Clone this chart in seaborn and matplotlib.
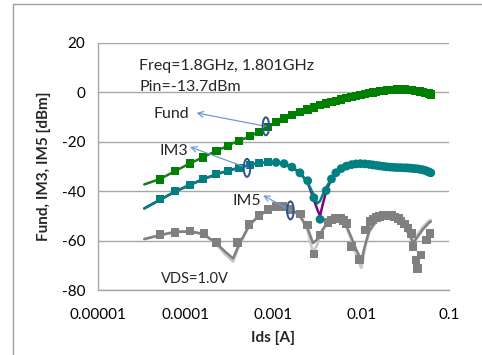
import numpy as np
import pandas as pd
import matplotlib
matplotlib.use("Agg")
import matplotlib.pyplot as plt
import seaborn as sns
from matplotlib.patches import Ellipse
from matplotlib.transforms import ScaledTranslation
from matplotlib.lines import Line2D

# ---------------- data ----------------
meas_ids = [5.13e-5, 7.59e-5, 1.12e-4, 1.58e-4, 2.24e-4, 3.02e-4, 4.07e-4, 5.37e-4,
            6.84e-4, 8.71e-4, 1.07e-3, 1.32e-3, 1.62e-3, 2.00e-3, 2.45e-3, 2.88e-3,
            3.39e-3, 3.98e-3, 4.57e-3, 5.13e-3, 5.89e-3, 6.76e-3, 7.76e-3, 8.71e-3,
            9.77e-3, 1.096e-2, 1.23e-2, 1.35e-2, 1.48e-2, 1.62e-2, 1.78e-2, 1.95e-2,
            2.14e-2, 2.34e-2, 2.57e-2, 2.82e-2, 3.09e-2, 3.31e-2, 3.55e-2, 3.80e-2,
            4.07e-2, 4.37e-2, 4.68e-2, 5.01e-2, 5.37e-2, 5.62e-2, 5.89e-2, 6.17e-2]
fund_meas = [-35.3, -31.9, -28.8, -26.4, -23.7, -21.7, -19.7, -17.8, -16.0, -14.0,
             -12.1, -10.6, -9.3, -8.1, -7.0, -6.2, -5.3, -4.6, -4.0, -3.5, -2.9, -2.4,
             -1.9, -1.5, -1.1, -0.7, -0.4, -0.1, 0.2, 0.4, 0.6, 0.8, 0.9, 1.0, 1.1, 1.1,
             1.1, 1.0, 0.9, 0.8, 0.6, 0.5, 0.3, 0.1, -0.2, -0.4, -0.6, -0.9]
im3_meas = [-43.3, -39.9, -37.4, -35.1, -33.1, -31.8, -30.6, -29.4, -28.7, -28.4,
            -28.4, -28.9, -30.3, -32.6, -35.8, -42.7, -51.4, -39.8, -35.1, -32.6,
            -30.9, -29.9, -29.3, -29.0, -28.9, -29.0, -29.2, -29.4, -29.6, -29.8,
            -30.0, -30.2, -30.3, -30.4, -30.5, -30.5, -30.6, -30.6, -30.7, -30.8,
            -30.9, -31.0, -31.2, -31.4, -31.7, -32.0, -32.3, -32.6]

im5_ids = [5.13e-5, 7.59e-5, 1.12e-4, 1.62e-4, 2.24e-4, 3.89e-4, 5.25e-4, 6.81e-4,
           8.71e-4, 1.07e-3, 1.29e-3, 1.55e-3, 2.04e-3, 2.45e-3, 2.88e-3, 3.39e-3,
           4.17e-3, 4.57e-3, 5.01e-3, 5.37e-3, 5.89e-3, 6.31e-3, 6.76e-3, 7.76e-3,
           9.55e-3, 1.12e-2, 1.26e-2, 1.35e-2, 1.48e-2, 1.62e-2, 1.78e-2, 1.95e-2,
           2.19e-2, 2.40e-2, 2.63e-2, 2.82e-2, 3.09e-2, 3.39e-2, 3.72e-2, 3.89e-2,
           4.17e-2, 4.37e-2, 4.79e-2, 5.50e-2, 6.03e-2]
im5_meas = [-57.5, -56.7, -56.1, -57.1, -60.7, -60.7, -53.4, -49.9, -47.4, -46.3,
            -46.3, -47.4, -49.3, -53.7, -65.4, -57.7, -52.6, -51.6, -51.0, -50.8,
            -51.0, -51.8, -53.0, -62.4, -67.6, -55.7, -52.4, -51.5, -50.6, -50.2,
            -49.9, -49.8, -49.9, -50.4, -51.0, -52.0, -53.3, -55.0, -57.1, -62.4,
            -67.8, -71.2, -65.8, -59.8, -57.1]

sim_ids = [3.39e-5, 5.13e-5, 7.59e-5, 1.12e-4, 1.58e-4, 2.24e-4, 2.82e-4, 3.47e-4,
           4.07e-4, 5.37e-4, 6.84e-4, 8.71e-4, 1.07e-3, 1.32e-3, 1.62e-3, 2.00e-3,
           2.45e-3, 2.82e-3, 3.16e-3, 3.39e-3, 3.63e-3, 3.98e-3, 4.57e-3, 5.13e-3,
           5.89e-3, 6.76e-3, 7.76e-3, 8.71e-3, 1.00e-2, 1.10e-2, 1.23e-2, 1.48e-2,
           1.78e-2, 2.14e-2, 2.63e-2, 3.09e-2, 3.55e-2, 3.89e-2, 4.37e-2, 5.01e-2,
           5.89e-2, 6.17e-2]
fund_sim = [-37.3, -35.1, -31.9, -28.8, -26.3, -23.7, -22.2, -20.6, -19.7, -17.8,
            -16.0, -14.0, -12.2, -10.7, -9.3, -8.1, -7.0, -6.3, -5.7, -5.3, -5.0,
            -4.6, -4.0, -3.5, -2.9, -2.4, -1.9, -1.5, -1.0, -0.7, -0.4, 0.2, 0.6,
            0.9, 1.1, 1.1, 0.9, 0.7, 0.5, 0.1, -0.6, -0.9]
im3_sim_a = [-47.0, -43.5, -40.2, -37.5, -35.2, -33.2, -32.1, -31.2, -30.6, -29.4,
             -28.7, -28.4, -28.4, -28.9, -30.3, -32.6, -36.5, -41.0, -45.0, -44.0,
             -41.5, -38.5, -35.0, -32.6, -30.9, -29.9, -29.3, -29.0, -28.9, -29.0,
             -29.2, -29.6, -30.0, -30.3, -30.5, -30.6, -30.7, -30.9, -31.0, -31.4,
             -32.3, -32.6]
im3_sim_b = [-47.0, -43.5, -40.2, -37.5, -35.2, -33.2, -32.1, -31.2, -30.6, -29.4,
             -28.7, -28.4, -28.4, -28.9, -30.3, -32.6, -36.5, -42.5, -47.5, -50.0,
             -45.5, -40.0, -35.0, -32.6, -30.9, -29.9, -29.3, -29.0, -28.9, -29.0,
             -29.2, -29.6, -30.0, -30.3, -30.5, -30.6, -30.7, -30.9, -31.0, -31.4,
             -32.3, -32.6]
im5_sim_a = [-59.4, -57.8, -56.5, -56.3, -57.3, -61.0, -64.5, -67.2, -61.5, -53.5,
             -50.0, -47.5, -46.5, -46.5, -47.5, -50.0, -55.0, -61.0, -59.5, -57.5,
             -55.5, -53.5, -51.8, -51.0, -51.5, -54.0, -59.0, -63.5, -68.0, -62.0,
             -56.0, -52.0, -50.5, -50.3, -51.8, -54.5, -58.0, -61.0, -58.5, -55.5,
             -52.8, -52.3]
im5_sim_b = [-59.4, -57.8, -56.5, -56.3, -57.3, -61.5, -65.5, -68.5, -62.0, -53.5,
             -50.0, -47.5, -46.5, -46.5, -47.5, -50.0, -56.0, -65.0, -61.5, -58.0,
             -55.8, -53.8, -52.0, -51.2, -51.8, -54.5, -60.0, -65.5, -71.0, -63.0,
             -56.5, -52.3, -50.8, -50.5, -51.5, -54.0, -57.0, -59.5, -57.5, -54.5,
             -52.0, -51.8]

x_ticks = [1e-5, 1e-4, 1e-3, 1e-2, 1e-1]
x_tick_labels = ["0.00001", "0.0001", "0.001", "0.01", "0.1"]
y_ticks = [-80, -60, -40, -20, 0, 20]

# ---------------- style ----------------
sns.set_style("white")
plt.rcParams["font.family"] = ["Lato", "DejaVu Sans"]

GREEN = "#008000"
TEAL = "#008080"
PURPLE = "#800080"
GRAY = "#808080"
LGRAY = "#c8c8c8"
GRID = "#a6a6a6"

fig = plt.figure(figsize=(4.82, 3.55), dpi=100)
ax = fig.add_axes([0.2027, 0.183, 0.7293, 0.6967])

sim = pd.DataFrame({"ids": sim_ids, "fund": fund_sim, "im3a": im3_sim_a,
                    "im3b": im3_sim_b, "im5a": im5_sim_a, "im5b": im5_sim_b})
meas = pd.DataFrame({"ids": meas_ids, "fund": fund_meas, "im3": im3_meas})
m5 = pd.DataFrame({"ids": im5_ids, "im5": im5_meas})

# lines
sns.lineplot(data=sim, x="ids", y="im5b", ax=ax, color=LGRAY, lw=2.0, sort=False, estimator=None, zorder=2)
sns.lineplot(data=sim, x="ids", y="im5a", ax=ax, color=GRAY, lw=1.8, sort=False, estimator=None, zorder=2)
sns.lineplot(data=sim, x="ids", y="im3b", ax=ax, color=PURPLE, lw=1.8, sort=False, estimator=None, zorder=2)
sns.lineplot(data=sim, x="ids", y="im3a", ax=ax, color=TEAL, lw=1.8, sort=False, estimator=None, zorder=2)
sns.lineplot(data=sim, x="ids", y="fund", ax=ax, color="#1e7a1e", lw=1.8, sort=False, estimator=None, zorder=2)

# markers
sns.scatterplot(data=m5, x="ids", y="im5", ax=ax, marker="s", s=38, color=GRAY, edgecolor="none", zorder=3)
sns.scatterplot(data=meas.iloc[:10], x="ids", y="im3", ax=ax, marker="s", s=32, color=TEAL, edgecolor="none", zorder=3)
sns.scatterplot(data=meas.iloc[10:], x="ids", y="im3", ax=ax, marker="o", s=40, color=TEAL, edgecolor="none", zorder=3)
sns.scatterplot(data=meas, x="ids", y="fund", ax=ax, marker="s", s=36, color=GREEN, edgecolor="none", zorder=3)

ax.set_xscale("log")
ax.set_xlim(1e-5, 1e-1)
ax.set_ylim(-80, 20)
ax.set_xticks(x_ticks)
ax.set_xticklabels(x_tick_labels)
ax.minorticks_off()
ax.set_yticks(y_ticks)
ax.set_yticklabels([str(v) for v in y_ticks])
ax.yaxis.grid(True, color=GRID, lw=1.0)
ax.xaxis.grid(False)
ax.set_axisbelow(True)
for s in ["top", "right"]:
    ax.spines[s].set_visible(False)
for s in ["left", "bottom"]:
    ax.spines[s].set_color(GRID)
    ax.spines[s].set_linewidth(1.0)
ax.tick_params(axis="both", which="major", direction="out", length=5, width=1,
               color=GRID, labelsize=11, labelcolor="black", pad=4)
ax.tick_params(axis="x", pad=8)
ax.set_xlabel("Ids [A]", fontsize=11, fontweight="bold", labelpad=6)
ax.set_ylabel("Fund, IM3, IM5 [dBm]", fontsize=11, fontweight="bold", labelpad=8)

# text annotations
ax.text(0.118, 0.905, "Freq=1.8GHz, 1.801GHz", transform=ax.transAxes, fontsize=11.5, va="center")
ax.text(0.118, 0.82, "Pin=-13.7dBm", transform=ax.transAxes, fontsize=11.5, va="center")
ax.text(0.18, 0.045, "VDS=1.0V", transform=ax.transAxes, fontsize=10.5, va="center")

ARROW = "#6f9bd1"
def note(label, txt_xy, tip_xy, ell_xy):
    ax.text(txt_xy[0], txt_xy[1], label, fontsize=11.5, va="center", ha="right")
    ax.annotate("", xy=tip_xy, xytext=ell_xy,
                arrowprops=dict(arrowstyle="->", color=ARROW, lw=0.9, shrinkA=0, shrinkB=0))
    tr = fig.dpi_scale_trans + ScaledTranslation(ell_xy[0], ell_xy[1], ax.transData)
    ax.add_patch(Ellipse((0, 0), 0.065, 0.18, transform=tr, fill=False,
                         edgecolor="#2f528f", lw=1.4, zorder=5))

note("Fund", (1.10e-4, -8.9), (1.33e-4, -8.4), (8.2e-4, -13.8))
note("IM3", (1.07e-4, -23.8), (1.12e-4, -22.1), (5.0e-4, -30.6))
note("IM5", (7.2e-4, -43.8), (7.6e-4, -41.7), (1.56e-3, -47.8))

# outer chart border (partly cropped)
fig.add_artist(Line2D([12.5 / 482, 12.5 / 482], [0, 1 - 3.5 / 355], transform=fig.transFigure,
                      color="#a0a0a0", lw=1))
fig.add_artist(Line2D([12.5 / 482, 1], [1 - 3.5 / 355, 1 - 3.5 / 355], transform=fig.transFigure,
                      color="#a0a0a0", lw=1))

fig.savefig("out.png", dpi=100)
